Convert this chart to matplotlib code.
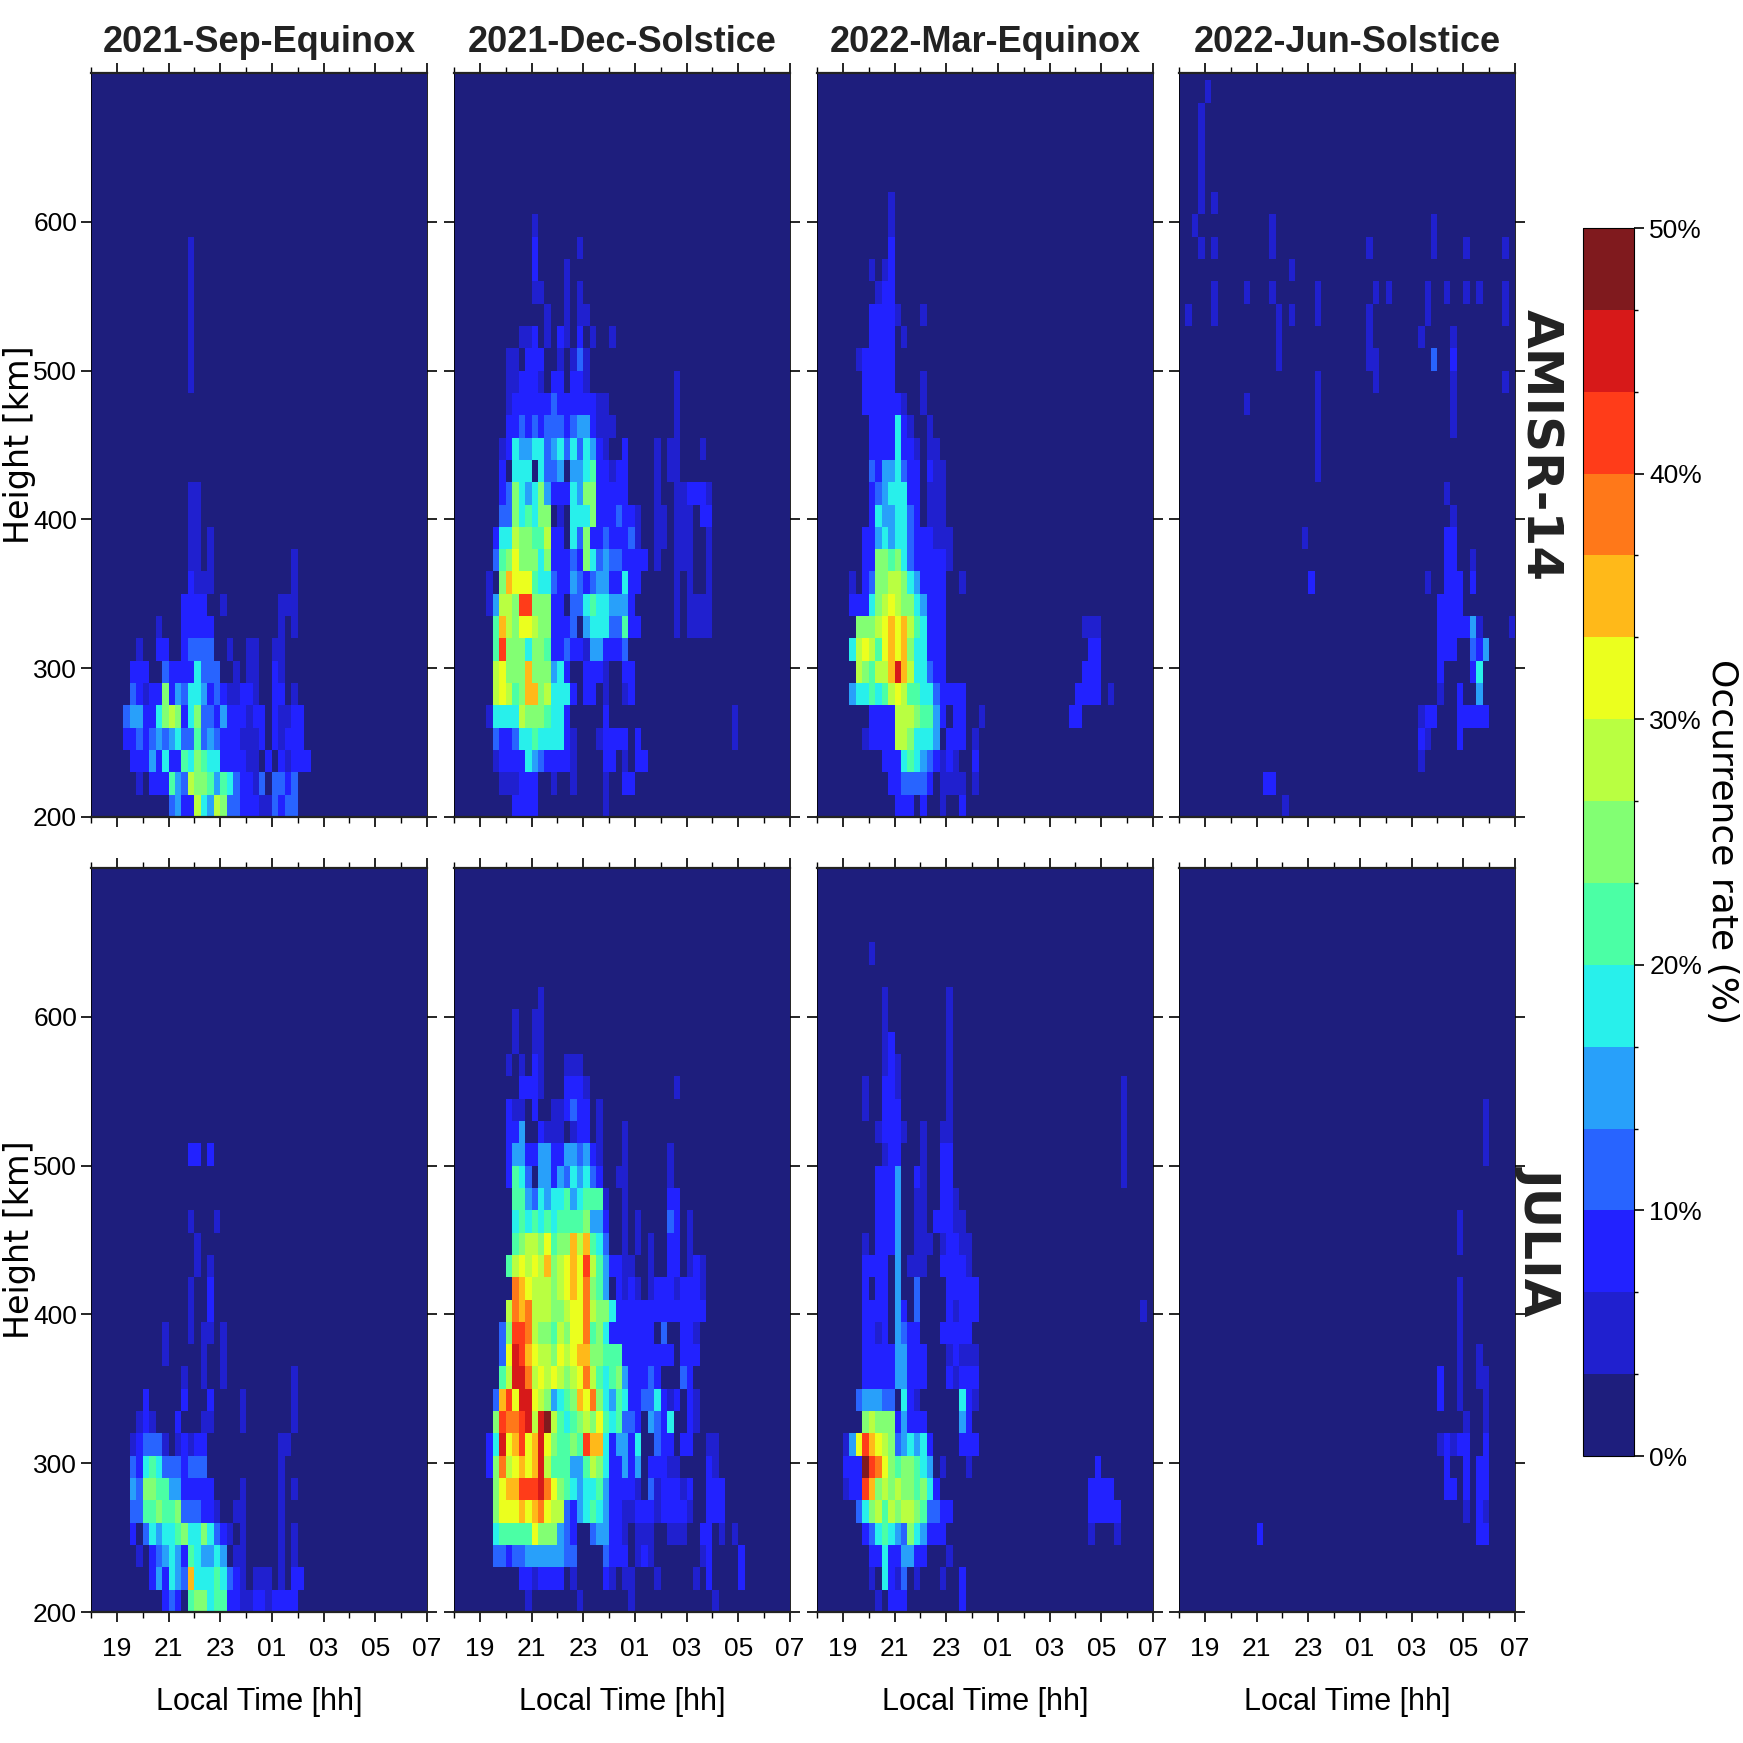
"""ESF occurrence rate panels: height vs local time, per season and radar."""

import matplotlib

matplotlib.use("Agg")
import matplotlib.pyplot as plt
from matplotlib.cm import ScalarMappable
from matplotlib.colors import BoundaryNorm, ListedColormap
import numpy as np

plt.rcParams["font.family"] = ["Liberation Sans", "DejaVu Sans"]

SEASONS = ["2021-Sep-Equinox", "2021-Dec-Solstice", "2022-Mar-Equinox", "2022-Jun-Solstice"]
RADARS = ["AMISR-14", "JULIA"]
HOUR_LABELS = ["19", "21", "23", "01", "03", "05", "07"]
HEIGHT_TICKS = [200, 300, 400, 500, 600]
CBAR_TICKS = [0, 10, 20, 30, 40, 50]
COLORS = [
    "#1e1e7d", "#2020cf", "#2222ff", "#2864ff", "#28a0fa", "#28f0eb", "#4bffa5", "#82ff73",
    "#b9ff41", "#ebff1e", "#ffb919", "#ff7819", "#ff3c19", "#d71919", "#801a1e",
]

# Rows are 15 km bins counted up from 200 km, columns are 15 min bins counted from 18 LT.
# Each row holds (first column, colour levels in hex, one digit per column).
amisr_sep = {
    0: [(12, "34228548733222113233")],
    1: [(7, "1022264387764653221303323")],
    2: [(6, "2224252265765522221102021222")],
    3: [(5, "2232343453363432221112021222")],
    4: [(5, "34422578725733242221220211" "22")],
    5: [(6, "321227243554232112210022" "01")],
    6: [(6, "222003222253330010110021")],
    7: [(7, "1"), (10, "22"), (14, "2"), (15, "3333"), (21, "1"), (24, "11"), (28, "11")],
    8: [(10, "1"), (14, "22222"), (29, "1"), (31, "1")],
    9: [(14, "222"), (17, "2"), (20, "1"), (29, "11"), (31, "1")],
    10: [(15, "21"), (17, "11"), (31, "1")],
    11: [(15, "11"), (18, "1"), (31, "1")],
    12: [(15, "11"), (18, "1")],
    13: [(15, "11")],
    14: [(15, "11")],
    19: [(15, "1")], 20: [(15, "1")], 21: [(15, "1")], 22: [(15, "1")],
    23: [(15, "1")], 24: [(15, "1")], 25: [(15, "1")],
}
amisr_dec = {
    0: [(9, "2222"), (23, "1")],
    1: [(7, "111222"), (15, "1"), (18, "1"), (23, "1"), (26, "22")],
    2: [(6, "1222254322221"), (23, "22"), (26, "1"), (28, "22")],
    3: [(6, "3223556555521"), (22, "12222"), (28, "2"), (43, "1")],
    4: [(5, "1555587776552"), (23, "2"), (43, "1")],
    5: [(6, "89867aa78" "5552"), (20, "22"), (23, "1"), (26, "12")],
    6: [(6, "89777a777452"), (20, "2221"), (26, "22")],
    7: [(6, "6c7775776223221442223")],
    8: [(6, "6a8799877222304555336" "22"), (34, "1"), (36, "1111")],
    9: [(5, "14887cc777220335655444" "2"), (34, "1"), (36, "1111")],
    10: [(5, "107a9996553224323" "4422522"), (34, "1"), (36, "1"), (39, "1")],
    11: [(6, "36797775722232753433" "2222"), (31, "1"), (34, "111"), (39, "1")],
    12: [(6, "255877668220537223222" "31"), (31, "11"), (34, "111"), (39, "1")],
    13: [(7, "33756577010555722232" "21"), (31, "11"), (34, "111"), (38, "22")],
    14: [(7, "237545742225477222" "22"), (31, "1"), (34, "112221")],
    15: [(7, "2055505334044562212" "2"), (31, "1"), (33, "11")],
    16: [(7, "12544553453535421"), (26, "2"), (31, "1"), (33, "11"), (38, "1")],
    17: [(8, "223232333234421" "11"), (34, "1")],
    18: [(8, "1222222322222211"), (34, "1")],
    19: [(8, "112221022" "0221"), (34, "1")],
    20: [(8, "110222001" "0131")],
    21: [(10, "112010" "2102"), (21, "1"), (24, "1")],
    22: [(14, "1"), (17, "1"), (19, "11")],
    23: [(12, "11"), (17, "1"), (19, "1")],
    24: [(12, "2"), (17, "1")],
    25: [(12, "2"), (19, "1")],
    26: [(12, "1")],
}
amisr_mar = {
    0: [(12, "222"), (16, "2"), (19, "1"), (22, "2")],
    1: [(11, "2233332"), (19, "1111"), (24, "1")],
    2: [(10, "22256543"), (18, "2121"), (24, "2")],
    3: [(7, "122228875554"), (20, "222"), (24, "1")],
    4: [(8, "222288876642"), (21, "22"), (25, "1"), (39, "22")],
    5: [(5, "4556568986655" "32222"), (40, "2222"), (45, "1")],
    6: [(6, "87688ada855322"), (41, "222")],
    7: [(5, "589869a9a755222"), (42, "22")],
    8: [(6, "77789a9a865222"), (41, "111")],
    9: [(5, "222578987754222")],
    10: [(5, "1023778875" "42222"), (22, "1")],
    11: [(7, "2277675322222" "1")],
    12: [(7, "2245455322211" "1")],
    13: [(8, "254455320111")],
    14: [(8, "234555220111")],
    15: [(8, "324453220211")],
    16: [(8, "2222522" "1011")],
    17: [(8, "2222521"), (17, "1")],
    18: [(7, "2222221"), (16, "1")],
    19: [(7, "22222"), (16, "1")],
    20: [(6, "122222")],
    21: [(8, "2222"), (13, "1")],
    22: [(8, "22221"), (16, "1")],
    23: [(9, "122")],
    24: [(8, "1"), (10, "12")],
    25: [(11, "2")],
    26: [(11, "1")],
    27: [(11, "1")],
}
amisr_jun = {
    0: [(16, "1")],
    1: [(13, "22")],
    2: [(37, "1")],
    3: [(37, "21"), (43, "2")],
    4: [(37, "122"), (43, "22222")],
    5: [(40, "1"), (43, "2"), (46, "4")],
    6: [(40, "2"), (45, "25")],
    7: [(40, "222"), (45, "324")],
    8: [(40, "22222"), (45, "41"), (51, "1")],
    9: [(40, "2222")],
    10: [(20, "2"), (38, "1"), (41, "222"), (45, "2")],
    11: [(41, "22"), (45, "1")],
    12: [(19, "1"), (41, "22")],
    13: [(42, "1")],
    14: [(41, "1")],
    15: [(21, "1")],
    16: [(21, "1")],
    17: [(21, "1"), (42, "1")],
    18: [(10, "1"), (21, "1"), (42, "1")],
    19: [(21, "1"), (30, "1"), (42, "1"), (50, "1")],
    20: [(15, "1"), (29, "11"), (39, "3"), (42, "2")],
    21: [(15, "1"), (29, "1"), (37, "1"), (42, "1")],
    22: [(1, "1"), (5, "1"), (15, "1"), (17, "1"), (21, "1"), (29, "1"), (38, "1"), (50, "1")],
    23: [(5, "1"), (10, "1"), (14, "1"), (21, "1"), (30, "1"), (32, "1"), (38, "1"), (41, "1"), (44, "1"), (46, "1"), (50, "1")],
    24: [(17, "1")],
    25: [(3, "1"), (5, "1"), (14, "1"), (29, "1"), (39, "1"), (44, "1"), (50, "1")],
    26: [(2, "1"), (14, "1"), (39, "1")],
    27: [(3, "1"), (5, "1")],
    28: [(3, "1")],
    29: [(3, "1")],
    30: [(3, "1")],
    31: [(3, "1")],
    32: [(4, "1")],
}
julia_sep = {
    0: [(11, "232"), (15, "677566"), (21, "2211221"), (28, "2222")],
    1: [(9, "242543"), (15, "a55565"), (21, "321"), (25, "111"), (29, "1"), (31, "22")],
    2: [(7, "1"), (9, "23454"), (14, "2654454"), (22, "11"), (29, "1"), (31, "1")],
    3: [(6, "2"), (8, "354556"), (14, "75575"), (19, "321"), (23, "1"), (29, "1"), (31, "1")],
    4: [(6, "33667"), (11, "667"), (14, "33322"), (19, "1"), (22, "11"), (29, "1")],
    5: [(6, "43776644"), (14, "22222"), (23, "1"), (29, "1"), (31, "1")],
    6: [(6, "3256533"), (13, "3"), (14, "2333"), (29, "1")],
    7: [(6, "12333"), (11, "1"), (13, "12122"), (29, "11")],
    8: [(7, "121"), (13, "2"), (17, "11"), (23, "1"), (31, "1")],
    9: [(8, "2"), (14, "2"), (18, "2"), (23, "1"), (31, "1")],
    10: [(14, "1"), (17, "1"), (20, "1"), (31, "1")],
    11: [(11, "1"), (17, "1"), (20, "1")],
    12: [(11, "1"), (15, "1"), (17, "11"), (20, "1")],
    13: [(15, "1"), (18, "2")],
    14: [(15, "1"), (18, "2")],
    15: [(16, "1"), (18, "1")],
    16: [(16, "1")],
    17: [(15, "1"), (19, "1")],
    20: [(15, "22"), (18, "2")],
}
julia_dec = {
    0: [(11, "1"), (19, "1"), (27, "1"), (40, "1")],
    1: [(10, "2212222"), (18, "1"), (23, "21"), (26, "1"), (27, "1"), (31, "1"), (37, "1"), (39, "2"), (44, "2")],
    2: [(6, "3323344444433"), (23, "3222"), (28, "12"), (30, "1"), (38, "12"), (44, "2")],
    3: [(6, "5666669777"), (16, "432"), (21, "3442210"), (28, "111"), (33, "111"), (38, "22"), (41, "1"), (43, "1")],
    4: [(6, "7999a9ab9885"), (17, "3245654221"), (27, "12221"), (32, "22221"), (39, "222")],
    5: [(6, "79aacccdb97653"), (19, "4556422221"), (30, "3122212"), (39, "222")],
    6: [(5, "2"), (6, "7b89a9ad8666"), (18, "4468752242"), (28, "4"), (30, "222"), (33, "11"), (39, "21")],
    7: [(5, "25d9ac9ad97667"), (19, "6ca"), (22, "a524"), (26, "425"), (31, "322"), (35, "22"), (39, "11")],
    8: [(6, "7cbbcd8de865"), (18, "6787965"), (25, "6332"), (30, "4325"), (36, "21")],
    9: [(6, "3ac9dd98745"), (17, "67a9b75465"), (27, "2233"), (30, "35212"), (36, "21")],
    10: [(7, "68dd"), (11, "b8989"), (16, "8789b"), (21, "8656742"), (28, "2232"), (35, "32")],
    11: [(7, "39dca98877"), (16, "989aa"), (21, "77666"), (26, "22222222"), (35, "222")],
    12: [(7, "37cc"), (11, "b87768"), (17, "799b"), (21, "6752222222"), (32, "3"), (35, "221")],
    13: [(8, "8bab"), (12, "888"), (15, "778"), (18, "99b"), (21, "8775"), (25, "222222"), (31, "22222222")],
    14: [(9, "ba9888"), (15, "789a9b"), (21, "764"), (25, "2121"), (30, "122212221")],
    15: [(8, "6898"), (12, "98a"), (15, "789a9c"), (21, "8642211"), (30, "1"), (33, "22"), (36, "121")],
    16: [(9, "678"), (12, "879"), (15, "677a8a"), (21, "653"), (26, "1"), (28, "1"), (30, "1"), (33, "22"), (36, "1")],
    17: [(9, "565"), (12, "65656"), (17, "6667"), (21, "442"), (26, "1"), (28, "1"), (33, "32"), (36, "1")],
    18: [(9, "664354556456664"), (23, "1"), (26, "1"), (33, "22")],
    19: [(8, "2653"), (13, "442"), (16, "4354"), (20, "532"), (25, "1"), (26, "1"), (33, "1")],
    20: [(8, "24422"), (13, "44"), (15, "22"), (17, "443"), (20, "421"), (26, "1"), (33, "1")],
    21: [(8, "224"), (13, "21"), (15, "11"), (18, "122"), (22, "1"), (26, "1")],
    22: [(8, "211"), (12, "2"), (15, "1123"), (19, "22"), (22, "1")],
    23: [(10, "2221"), (17, "2221"), (34, "1")],
    24: [(8, "1"), (10, "1"), (12, "21"), (17, "1"), (18, "11")],
    25: [(9, "1"), (12, "11")],
    26: [(9, "1"), (12, "11")],
    27: [(13, "1")],
}
julia_mar = {
    0: [(9, "1"), (11, "222"), (22, "2")],
    1: [(8, "1"), (10, "5213"), (15, "1"), (19, "1"), (22, "2")],
    2: [(8, "22522"), (13, "4422"), (20, "1")],
    3: [(7, "2356543"), (14, "754"), (17, "222"), (42, "1"), (46, "1")],
    4: [(6, "357868"), (12, "78876"), (17, "3322"), (42, "22222")],
    5: [(4, "122"), (7, "ca787"), (12, "877675"), (18, "2"), (42, "2222")],
    6: [(4, "222"), (7, "ecb97"), (12, "677654"), (19, "1"), (23, "1"), (43, "2")],
    7: [(4, "149"), (7, "ca987"), (12, "345452"), (22, "222")],
    8: [(7, "78777"), (12, "24222"), (22, "42")],
    9: [(6, "344433"), (13, "52"), (15, "1"), (22, "521")],
    10: [(7, "22222"), (12, "44222"), (20, "21222")],
    11: [(7, "22222"), (12, "44222"), (20, "12111")],
    12: [(7, "2212"), (12, "4322"), (19, "22222")],
    13: [(7, "2222"), (12, "42"), (15, "3"), (20, "21222"), (50, "1")],
    14: [(7, "2"), (9, "22"), (12, "4"), (15, "3"), (20, "22222")],
    15: [(7, "2222"), (12, "4"), (14, "111"), (19, "22221")],
    16: [(7, "1"), (9, "222"), (12, "4"), (15, "111"), (19, "12211")],
    17: [(9, "2224"), (15, "11"), (18, "22211")],
    18: [(9, "2224"), (15, "11"), (19, "221")],
    19: [(9, "2224"), (15, "21"), (19, "22"), (47, "1")],
    20: [(10, "122"), (16, "1"), (19, "22"), (47, "1")],
    21: [(9, "12221"), (16, "1"), (19, "11"), (47, "1")],
    22: [(7, "1"), (10, "222"), (20, "1"), (47, "1")],
    23: [(7, "1"), (10, "221"), (20, "1"), (47, "1")],
    24: [(10, "121"), (20, "1")],
    25: [(10, "12"), (20, "1")],
    26: [(10, "1"), (20, "1")],
    27: [(10, "1"), (20, "1")],
    29: [(8, "1")],
}
julia_jun = {
    3: [(12, "2"), (46, "22")],
    4: [(44, "1"), (46, "21")],
    5: [(41, "22"), (44, "2"), (46, "22")],
    6: [(41, "2"), (44, "2"), (46, "22")],
    7: [(40, "12122"), (47, "2")],
    8: [(44, "1"), (47, "1")],
    9: [(40, "2"), (43, "1"), (47, "1")],
    10: [(40, "2"), (43, "1"), (46, "11")],
    11: [(43, "1"), (46, "1")],
    12: [(43, "1")],
    13: [(43, "1")],
    14: [(43, "1")],
    16: [(43, "1")],
    17: [(43, "1")],
    20: [(47, "1")],
    21: [(47, "1")],
    22: [(47, "1")],
}
PANELS = [
    [amisr_sep, amisr_dec, amisr_mar, amisr_jun],
    [julia_sep, julia_dec, julia_mar, julia_jun],
]

PANEL_LEFT = [91, 454, 817, 1179]
ROW_TOP = [73, 868]
PANEL_W, PANEL_H = 336, 744
SIZE = 1743

time_edges = np.linspace(18, 31, 53)
height_edges = np.append(200 + 15 * np.arange(34), 700)
levels = np.linspace(0, 50, 16)
cmap = ListedColormap(COLORS)
norm = BoundaryNorm(levels, cmap.N)


def to_grid(rows):
    grid = np.zeros((34, 52))
    for row, segments in rows.items():
        for start, digits in segments:
            grid[row, start:start + len(digits)] = [int(c, 16) for c in digits]
    return (grid + 0.5) * 50 / 15


fig = plt.figure(figsize=(SIZE / 100, SIZE / 100), dpi=100)

for r, radar in enumerate(RADARS):
    for c, season in enumerate(SEASONS):
        ax = fig.add_axes([
            PANEL_LEFT[c] / SIZE,
            1 - (ROW_TOP[r] + PANEL_H) / SIZE,
            PANEL_W / SIZE,
            PANEL_H / SIZE,
        ])
        ax.pcolormesh(time_edges, height_edges, to_grid(PANELS[r][c]), cmap=cmap, norm=norm)
        ax.set_xlim(18, 31)
        ax.set_ylim(200, 700)
        ax.set_xticks(np.arange(19, 32, 2))
        ax.set_xticks(np.arange(18, 31, 2), minor=True)
        ax.set_yticks(HEIGHT_TICKS)
        ax.tick_params(axis="both", which="major", top=True, right=True, length=7, width=1.2)
        ax.tick_params(axis="x", which="minor", top=True, length=4, width=1)
        ax.tick_params(axis="x", labelsize=19, pad=11)
        ax.tick_params(axis="y", labelsize=19, pad=3)
        for side in ("left", "right"):
            ax.spines[side].set_linewidth(0.6)
        for side in ("top", "bottom"):
            ax.spines[side].set_linewidth(1.6)
            ax.spines[side].set_color("#222222")
        if r == 1:
            ax.set_xticklabels(HOUR_LABELS)
            ax.set_xlabel("Local Time [hh]", fontsize=22, labelpad=19)
        else:
            ax.set_xticklabels([])
            ax.set_title(season, fontsize=26, fontweight="bold", pad=15, color="#222222")
        if c == 0:
            ax.set_yticklabels([str(h) for h in HEIGHT_TICKS])
            ax.set_ylabel("Height [km]", fontsize=24, family="DejaVu Sans")
            ax.yaxis.set_label_coords(-0.163, 0.5)
        else:
            ax.set_yticklabels([])
        if c == 3:
            ax.text(1.005, 0.5, radar, transform=ax.transAxes, rotation=-90, ha="left", va="center",
                    fontsize=36, fontweight="bold", family="DejaVu Sans", color="#222222")

cax = fig.add_axes([1583 / SIZE, 1 - 1456 / SIZE, 51 / SIZE, 1228 / SIZE])
cbar = fig.colorbar(ScalarMappable(norm=norm, cmap=cmap), cax=cax, spacing="proportional", ticks=CBAR_TICKS)
cbar.ax.set_yticklabels([f"{t}%" for t in CBAR_TICKS])
cbar.ax.yaxis.set_ticks(levels, minor=True)
cbar.ax.tick_params(which="major", length=7, width=1.2, labelsize=19, pad=4)
cbar.ax.tick_params(which="minor", length=3, width=1)
cbar.set_label("Occurrence rate (%)", fontsize=26, family="DejaVu Sans", rotation=270)
cbar.ax.yaxis.set_label_coords(3.05, 0.5)

fig.savefig("out.png", dpi=100)
